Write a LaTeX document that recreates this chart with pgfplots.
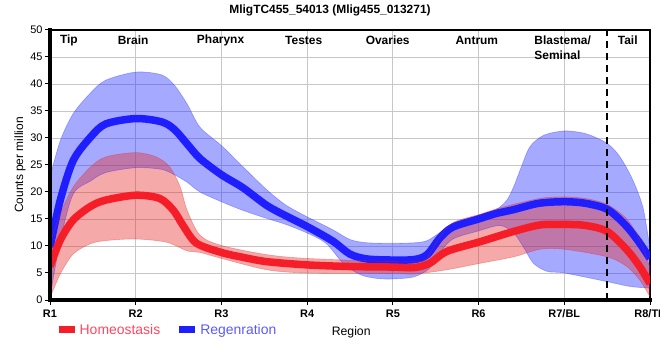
\documentclass[border=0pt]{standalone}
\usepackage{pgfplots}
\pgfplotsset{compat=1.18}
\usepgfplotslibrary{fillbetween}
\usepackage{fontspec}
\setmainfont{Liberation Sans}
\definecolor{bband}{RGB}{30,40,255}
\definecolor{rband}{RGB}{230,40,40}
\definecolor{bline}{RGB}{30,30,255}
\definecolor{rline}{RGB}{245,30,40}
\definecolor{rtext}{RGB}{255,70,95}
\definecolor{btext}{RGB}{90,90,255}
\begin{document}
\begin{tikzpicture}
\begin{axis}[
  at={(0,0)}, anchor=south west,
  scale only axis, width=600bp, height=270bp,
  xmin=0, xmax=7, ymin=0, ymax=50,
  xtick={0,1,2,3,4,5,6,7},
  xticklabels={R1,R2,R3,R4,R5,R6,R7/BL,R8/TP},
  ytick={0,5,...,50},
  /pgf/number format/assume math mode=true,
  grid=major,
  grid style={color=black!22, line width=0.9bp},
  axis line style={line width=1.3bp},
  tick align=outside, major tick length=5bp,
  tick style={black, line width=1bp},
  xtick pos=bottom, ytick pos=left,
  xticklabel style={font=\bfseries\fontsize{11}{13}\selectfont, yshift=-1bp},
  yticklabel style={font=\fontsize{11}{13}\selectfont, xshift=1bp},
  ylabel={Counts per million},
  ylabel style={at={(axis description cs:-0.05,0.5)}, anchor=center, font=\fontsize{12}{14}\selectfont},
  xlabel={Region},
  xlabel style={at={(axis description cs:0.502,-0.119)}, anchor=center, font=\fontsize{12.3}{14}\selectfont},
  title={MligTC455\_54013 (Mlig455\_013271)},
  every axis title shift=0pt,
  title style={at={(axis description cs:0.4667,1.074)}, anchor=center, font=\bfseries\fontsize{12}{14}\selectfont},
  legend style={at={(axis description cs:0.0083,-0.111)}, anchor=west, draw=none, fill=none, inner sep=0pt,
    font=\fontsize{14}{16}\selectfont, /tikz/every even column/.append style={column sep=14bp},
    nodes={inner sep=1.5bp}},
  legend columns=2,
  legend image code/.code={\draw[#1, line width=7bp, line cap=butt] (0bp,0bp) -- (16bp,0bp);},
  after end axis/.code={
    \draw[line width=3bp, line cap=rect] (rel axis cs:0,1) -- (rel axis cs:0,0) -- (rel axis cs:1,0);
  },
]
\addlegendimage{rline}
\addlegendentry{\textcolor{rtext}{Homeostasis}}
\addlegendimage{bline}
\addlegendentry{\textcolor{btext}{Regenration}}

% Regeneration band
\addplot[name path=bU, draw=bband, draw opacity=0.35, line width=0.6bp, smooth, tension=0.5, forget plot] coordinates {
(0,22.8)(0.12,29.5)(0.27,34.5)(0.47,38.3)(0.65,40.7)(1.0,42.2)(1.3,41.7)(1.45,39.8)(1.6,36.3)(1.75,32)(2.0,28.6)(2.25,24.7)(2.53,20.4)(2.75,17.6)(3.0,15.4)(3.3,13.0)(3.5,11.2)(3.7,10.6)(4.0,10.5)(4.25,10.6)(4.4,11.0)(4.55,12.5)(4.7,14.0)(5.0,15.7)(5.2,16.7)(5.33,18.5)(5.41,21)(5.5,24.7)(5.6,28.4)(5.76,30.5)(6.0,31.3)(6.25,30.8)(6.5,29.0)(6.65,26.5)(6.8,22.2)(6.92,17)(7.0,9.5)};
\addplot[name path=bL, draw=bband, draw opacity=0.35, line width=0.6bp, smooth, tension=0.5, forget plot] coordinates {
(0,0.5)(0.12,11)(0.27,19.6)(0.47,22.0)(0.65,23.6)(1.0,24.5)(1.3,24.2)(1.45,23.2)(1.6,21.8)(1.75,20)(2.0,18.2)(2.25,16.6)(2.53,15.1)(2.75,14.0)(3.0,12.4)(3.22,10.5)(3.42,6.8)(3.62,4.7)(3.81,4.0)(4.0,3.9)(4.25,4.3)(4.43,5.9)(4.55,8.8)(4.7,11.3)(5.0,12.8)(5.25,13.8)(5.41,12.4)(5.52,9.9)(5.64,6.8)(5.8,5.3)(6.0,5.0)(6.5,3.4)(6.77,2.5)(7.0,2.2)};
\addplot[fill=bband, fill opacity=0.4, draw=none, forget plot] fill between[of=bU and bL];
% Regeneration mean
\addplot[bline, line width=7.5bp, smooth, tension=0.5, forget plot] coordinates {
(0,9.8)(0.12,18.5)(0.27,25.8)(0.47,30.1)(0.65,32.6)(1.0,33.6)(1.3,33.0)(1.45,31.6)(1.6,28.9)(1.75,26.2)(2.0,23.2)(2.25,20.8)(2.53,17.5)(2.75,15.6)(3.0,13.6)(3.3,10.9)(3.5,8.5)(3.7,7.6)(4.0,7.4)(4.25,7.5)(4.4,8.4)(4.55,11.5)(4.7,13.5)(5.0,15.0)(5.2,16.0)(5.4,16.7)(5.7,17.9)(6.0,18.2)(6.25,17.9)(6.5,16.8)(6.7,14.1)(6.85,11.2)(7.0,7.7)};

% Homeostasis band
\addplot[name path=rU, draw=rband, draw opacity=0.35, line width=0.6bp, smooth, tension=0.5, forget plot] coordinates {
(0,10.5)(0.12,16.0)(0.27,20.9)(0.47,24.6)(0.65,26.5)(1.0,27.3)(1.24,26.5)(1.4,24.6)(1.52,20.9)(1.6,16.6)(1.75,12.0)(2.0,10.1)(2.53,8.4)(3.0,7.7)(4.0,7.1)(4.25,7.1)(4.39,7.6)(4.55,11.8)(4.71,14.4)(5.02,15.9)(5.21,16.9)(5.48,18.0)(5.75,18.9)(6.0,19.1)(6.25,18.8)(6.5,17.7)(6.73,15.0)(6.88,11.1)(7.0,6.0)};
\addplot[name path=rL, draw=rband, draw opacity=0.35, line width=0.6bp, smooth, tension=0.5, forget plot] coordinates {
(0,0.4)(0.12,4.8)(0.27,8.5)(0.47,10.4)(0.65,11.0)(1.0,11.3)(1.36,10.7)(1.6,9.1)(1.75,8.8)(2.0,7.7)(2.53,5.6)(3.0,5.0)(4.0,4.9)(4.25,4.8)(4.63,5.6)(5.02,6.8)(5.41,8.0)(5.72,9.4)(6.0,9.4)(6.5,8.0)(6.73,6.2)(6.88,3.7)(7.0,0.6)};
\addplot[fill=rband, fill opacity=0.4, draw=none, forget plot] fill between[of=rU and rL];
% Homeostasis mean
\addplot[rline, line width=7.5bp, smooth, tension=0.5, forget plot] coordinates {
(0,6.2)(0.12,11.1)(0.27,14.8)(0.47,17.3)(0.65,18.5)(1.0,19.4)(1.28,18.8)(1.44,16.6)(1.56,13.6)(1.71,10.5)(2.0,8.8)(2.25,7.9)(2.53,7.1)(3.0,6.5)(3.5,6.2)(4.0,6.1)(4.25,6.0)(4.43,6.8)(4.63,9.0)(5.02,10.8)(5.41,12.7)(5.72,13.9)(6.0,14.0)(6.25,13.8)(6.5,12.7)(6.73,9.3)(6.88,6.2)(7.0,3.0)};

% Tail boundary
\addplot[black, line width=2.6bp, dash pattern=on 7bp off 5bp, forget plot] coordinates {(6.5,0)(6.5,50)};

% Region names
\begin{scope}[every node/.style={font=\bfseries\fontsize{12}{14}\selectfont, anchor=center, inner sep=0pt}]
\node at (axis cs:0.22,48.1) {Tip};
\node at (axis cs:0.97,48.1) {Brain};
\node at (axis cs:1.99,48.1) {Pharynx};
\node at (axis cs:2.96,48.1) {Testes};
\node at (axis cs:3.94,48.1) {Ovaries};
\node at (axis cs:4.98,48.1) {Antrum};
\node[anchor=west] at (axis cs:5.65,48.1) {Blastema/};
\node[anchor=west] at (axis cs:5.65,45.3) {Seminal};
\node at (axis cs:6.74,48.1) {Tail};
\end{scope}
\end{axis}
\pgfresetboundingbox
\path[use as bounding box] (-50bp,-60bp) rectangle (610bp,300bp);
\end{tikzpicture}
\end{document}
